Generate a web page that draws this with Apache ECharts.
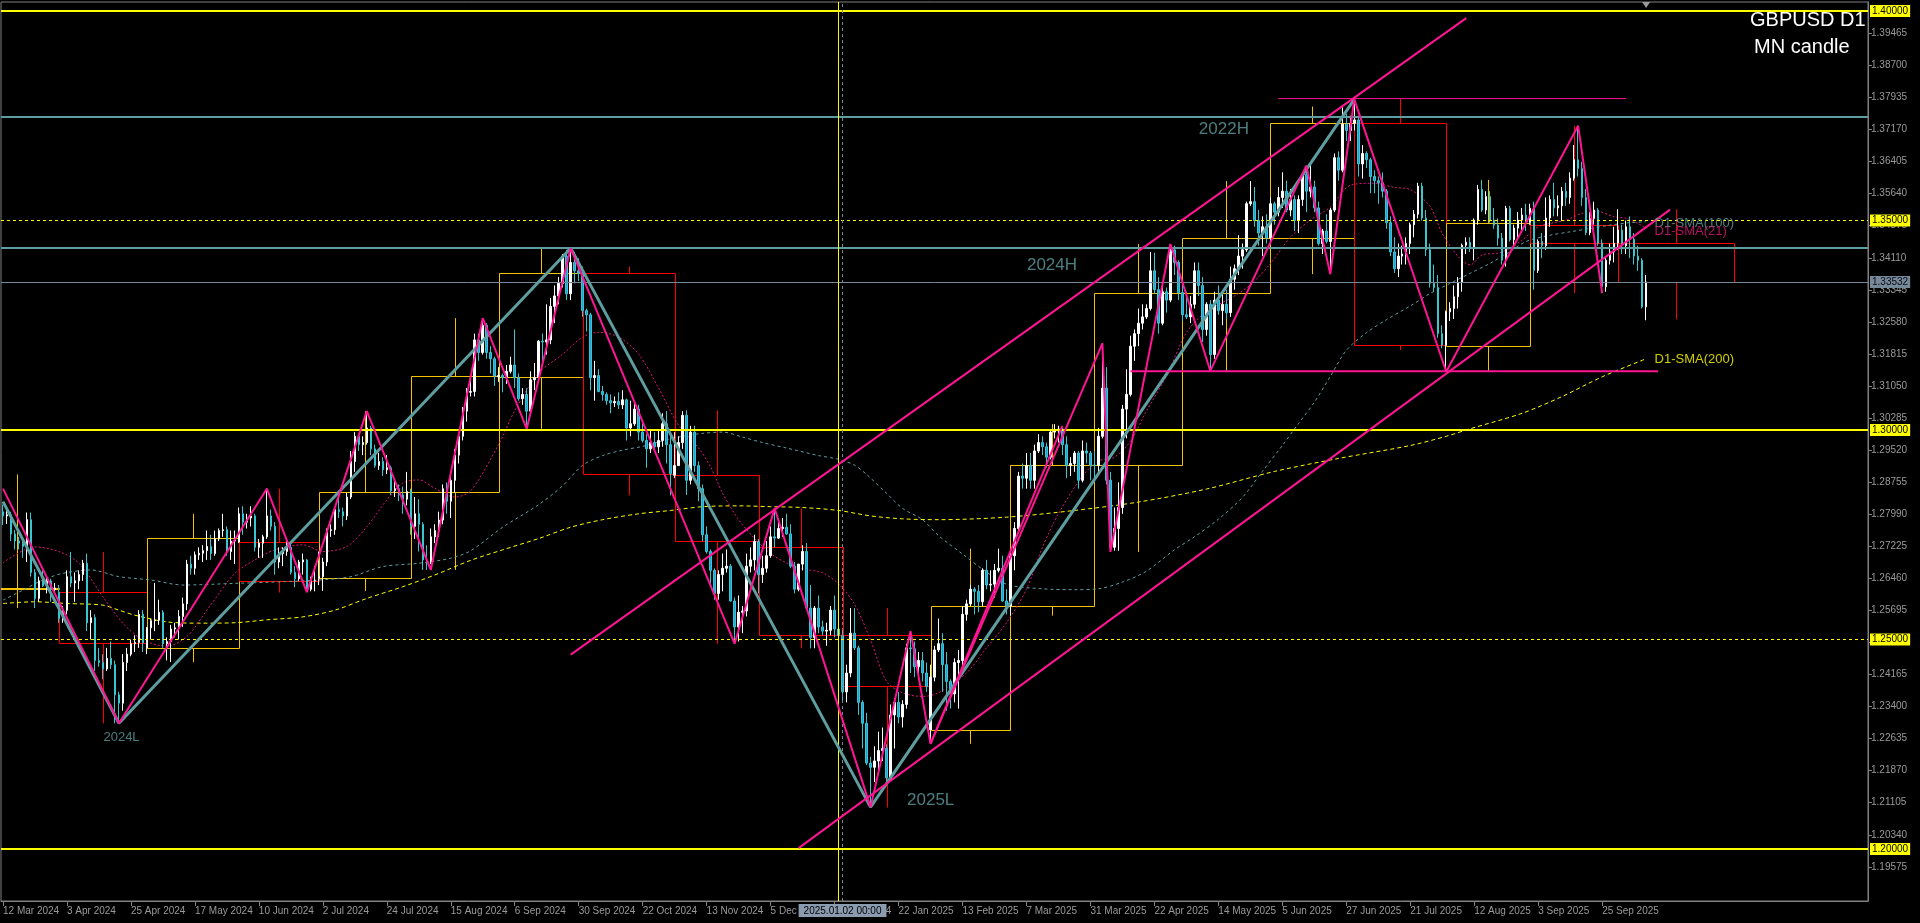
<!DOCTYPE html>
<html><head><meta charset="utf-8">
<script src="https://cdn.jsdelivr.net/npm/echarts@6/dist/echarts.min.js"></script>
<style>html,body{margin:0;padding:0;background:#000;overflow:hidden}#c{width:1920px;height:923px}</style>
</head><body><div id="c"></div><script>
// ---------- text ----------
const symbolTitle = 'GBPUSD D1';
const overlayTitle = 'MN candle';
const crossLabel = '2025.01.02 00:00';

// ---------- calendar ----------
const firstBarDate = '2024-03-12';
const lastBarDate = '2025-10-10';
const closedDays = ['2024-12-25', '2025-01-01'];
const totalSlots = 467;

// ---------- daily candles [open, high, low, close] ----------
const mar24 = [[1.2805,1.2822,1.2773,1.2795],[1.2795,1.2815,1.2776,1.2798],[1.2798,1.2805,1.2735,1.2752],[1.2752,1.2762,1.2715,1.2735],[1.2735,1.2745,1.2715,1.2730],[1.2730,1.2737,1.2695,1.2722],[1.2722,1.2803,1.2685,1.2786],[1.2786,1.2803,1.2650,1.2660],[1.2660,1.2668,1.2575,1.2598],[1.2598,1.2650,1.2590,1.2640],[1.2640,1.2665,1.2625,1.2628],[1.2628,1.2650,1.2610,1.2640],[1.2640,1.2645,1.2590,1.2620],[1.2620,1.2635,1.2612,1.2623]];
const apr24 = [[1.2613,1.2630,1.2540,1.2550],[1.2550,1.2580,1.2540,1.2570],[1.2570,1.2665,1.2560,1.2650],[1.2650,1.2709,1.2625,1.2635],[1.2635,1.2660,1.2590,1.2640],[1.2640,1.2665,1.2620,1.2655],[1.2655,1.2690,1.2640,1.2682],[1.2682,1.2705,1.2520,1.2540],[1.2540,1.2570,1.2500,1.2552],[1.2552,1.2560,1.2425,1.2450],[1.2450,1.2480,1.2435,1.2445],[1.2445,1.2465,1.2405,1.2430],[1.2430,1.2480,1.2425,1.2455],[1.2455,1.2495,1.2430,1.2440],[1.2440,1.2450,1.2300,1.2368],[1.2368,1.2375,1.2300,1.2348],[1.2348,1.2465,1.2330,1.2445],[1.2445,1.2480,1.2425,1.2465],[1.2465,1.2500,1.2460,1.2490],[1.2490,1.2510,1.2470,1.2493],[1.2493,1.2570,1.2480,1.2560],[1.2560,1.2570,1.2470,1.2492]];
const may24 = [[1.2480,1.2530,1.2465,1.2528],[1.2528,1.2550,1.2500,1.2545],[1.2545,1.2635,1.2520,1.2546],[1.2546,1.2595,1.2535,1.2565],[1.2565,1.2570,1.2480,1.2490],[1.2490,1.2505,1.2450,1.2495],[1.2495,1.2535,1.2446,1.2525],[1.2525,1.2540,1.2505,1.2528],[1.2528,1.2570,1.2500,1.2555],[1.2555,1.2600,1.2530,1.2585],[1.2585,1.2690,1.2570,1.2680],[1.2680,1.2700,1.2655,1.2670],[1.2670,1.2710,1.2655,1.2702],[1.2702,1.2720,1.2690,1.2706],[1.2706,1.2725,1.2685,1.2712],[1.2712,1.2760,1.2690,1.2722],[1.2722,1.2750,1.2690,1.2705],[1.2705,1.2760,1.2700,1.2740],[1.2740,1.2765,1.2735,1.2760],[1.2760,1.2800,1.2745,1.2762],[1.2762,1.2770,1.2700,1.2710],[1.2710,1.2760,1.2690,1.2735],[1.2735,1.2760,1.2680,1.2742]];
const jun24 = [[1.2733,1.2815,1.2730,1.2800],[1.2800,1.2818,1.2750,1.2780],[1.2780,1.2800,1.2765,1.2790],[1.2790,1.2818,1.2770,1.2795],[1.2795,1.2800,1.2710,1.2720],[1.2720,1.2740,1.2695,1.2730],[1.2730,1.2750,1.2695,1.2745],[1.2745,1.2860,1.2740,1.2795],[1.2795,1.2810,1.2760,1.2770],[1.2770,1.2780,1.2655,1.2685],[1.2685,1.2720,1.2670,1.2705],[1.2705,1.2720,1.2675,1.2710],[1.2710,1.2740,1.2700,1.2720],[1.2720,1.2735,1.2655,1.2660],[1.2660,1.2675,1.2625,1.2645],[1.2645,1.2690,1.2640,1.2685],[1.2685,1.2705,1.2655,1.2690],[1.2690,1.2692,1.2613,1.2620],[1.2620,1.2650,1.2615,1.2640],[1.2640,1.2675,1.2615,1.2640]];
const jul24 = [[1.2646,1.2710,1.2630,1.2650],[1.2650,1.2695,1.2616,1.2685],[1.2685,1.2765,1.2675,1.2760],[1.2760,1.2775,1.2745,1.2762],[1.2762,1.2815,1.2750,1.2810],[1.2810,1.2845,1.2790,1.2805],[1.2805,1.2815,1.2770,1.2795],[1.2795,1.2850,1.2785,1.2840],[1.2840,1.2950,1.2835,1.2925],[1.2925,1.2995,1.2900,1.2985],[1.2985,1.2990,1.2950,1.2965],[1.2965,1.2985,1.2940,1.2970],[1.2970,1.3045,1.2965,1.3005],[1.3005,1.3010,1.2940,1.2955],[1.2955,1.2965,1.2910,1.2915],[1.2915,1.2945,1.2905,1.2925],[1.2925,1.2935,1.2890,1.2905],[1.2905,1.2940,1.2895,1.2910],[1.2910,1.2915,1.2845,1.2855],[1.2855,1.2880,1.2840,1.2860],[1.2860,1.2870,1.2830,1.2845],[1.2845,1.2865,1.2800,1.2835],[1.2835,1.2900,1.2820,1.2853]];
const aug24 = [[1.2853,1.2860,1.2750,1.2770],[1.2770,1.2840,1.2740,1.2800],[1.2800,1.2835,1.2710,1.2775],[1.2775,1.2780,1.2666,1.2690],[1.2690,1.2725,1.2666,1.2685],[1.2685,1.2765,1.2680,1.2745],[1.2745,1.2775,1.2730,1.2760],[1.2760,1.2805,1.2745,1.2785],[1.2785,1.2870,1.2775,1.2860],[1.2860,1.2875,1.2800,1.2830],[1.2830,1.2890,1.2790,1.2880],[1.2880,1.2955,1.2850,1.2940],[1.2940,1.2990,1.2920,1.2985],[1.2985,1.3055,1.2975,1.3045],[1.3045,1.3100,1.3020,1.3090],[1.3090,1.3130,1.3080,1.3092],[1.3092,1.3230,1.3080,1.3215],[1.3215,1.3230,1.3165,1.3185],[1.3185,1.3267,1.3180,1.3250],[1.3250,1.3255,1.3170,1.3185],[1.3185,1.3200,1.3135,1.3170],[1.3170,1.3175,1.3105,1.3129]];
const sep24 = [[1.3127,1.3150,1.3115,1.3130],[1.3130,1.3135,1.3090,1.3125],[1.3125,1.3155,1.3110,1.3140],[1.3140,1.3175,1.3135,1.3155],[1.3155,1.3240,1.3100,1.3125],[1.3125,1.3135,1.3070,1.3075],[1.3075,1.3100,1.3060,1.3085],[1.3085,1.3100,1.3003,1.3045],[1.3045,1.3140,1.3040,1.3120],[1.3120,1.3160,1.3095,1.3125],[1.3125,1.3215,1.3120,1.3212],[1.3212,1.3230,1.3165,1.3210],[1.3210,1.3300,1.3180,1.3215],[1.3215,1.3315,1.3205,1.3295],[1.3295,1.3345,1.3255,1.3320],[1.3320,1.3365,1.3300,1.3350],[1.3350,1.3420,1.3340,1.3415],[1.3415,1.3430,1.3310,1.3325],[1.3325,1.3434,1.3310,1.3400],[1.3400,1.3425,1.3350,1.3380],[1.3380,1.3410,1.3355,1.3374]];
const oct24 = [[1.3374,1.3390,1.3270,1.3285],[1.3285,1.3290,1.3235,1.3275],[1.3275,1.3280,1.3095,1.3125],[1.3125,1.3165,1.3070,1.3130],[1.3130,1.3145,1.3090,1.3092],[1.3092,1.3105,1.3070,1.3085],[1.3085,1.3090,1.3060,1.3070],[1.3070,1.3085,1.3040,1.3065],[1.3065,1.3080,1.3055,1.3068],[1.3068,1.3090,1.3050,1.3060],[1.3060,1.3095,1.3050,1.3072],[1.3072,1.3075,1.2975,1.3005],[1.3005,1.3070,1.2985,1.3015],[1.3015,1.3070,1.3010,1.3050],[1.3050,1.3060,1.2975,1.2995],[1.2995,1.3015,1.2970,1.2975],[1.2975,1.2990,1.2910,1.2955],[1.2955,1.3000,1.2945,1.2970],[1.2970,1.2995,1.2950,1.2960],[1.2960,1.3000,1.2945,1.2975],[1.2975,1.3040,1.2960,1.3015],[1.3015,1.3045,1.2920,1.2965],[1.2965,1.2985,1.2844,1.2896]];
const nov24 = [[1.2892,1.2995,1.2885,1.2915],[1.2915,1.2985,1.2915,1.2970],[1.2970,1.3045,1.2955,1.3035],[1.3035,1.3047,1.2845,1.2880],[1.2880,1.3010,1.2870,1.2995],[1.2995,1.3010,1.2900,1.2915],[1.2915,1.2925,1.2830,1.2860],[1.2860,1.2870,1.2735,1.2750],[1.2750,1.2770,1.2705,1.2710],[1.2710,1.2715,1.2630,1.2665],[1.2665,1.2670,1.2595,1.2610],[1.2610,1.2665,1.2595,1.2655],[1.2655,1.2705,1.2615,1.2670],[1.2670,1.2715,1.2660,1.2675],[1.2675,1.2680,1.2590,1.2592],[1.2592,1.2600,1.2490,1.2530],[1.2530,1.2605,1.2495,1.2565],[1.2565,1.2580,1.2515,1.2568],[1.2568,1.2705,1.2555,1.2675],[1.2675,1.2720,1.2660,1.2690],[1.2690,1.2750,1.2665,1.2734]];
const dec24 = [[1.2734,1.2740,1.2610,1.2655],[1.2655,1.2700,1.2635,1.2670],[1.2670,1.2735,1.2660,1.2700],[1.2700,1.2770,1.2695,1.2745],[1.2745,1.2813,1.2720,1.2742],[1.2742,1.2790,1.2740,1.2765],[1.2765,1.2790,1.2745,1.2768],[1.2768,1.2800,1.2750,1.2752],[1.2752,1.2775,1.2670,1.2675],[1.2675,1.2685,1.2610,1.2620],[1.2620,1.2675,1.2615,1.2680],[1.2680,1.2725,1.2665,1.2710],[1.2710,1.2730,1.2570,1.2575],[1.2575,1.2630,1.2479,1.2505],[1.2505,1.2580,1.2479,1.2575],[1.2575,1.2605,1.2515,1.2530],[1.2530,1.2545,1.2510,1.2520],[1.2520,1.2540,1.2485,1.2522],[1.2522,1.2580,1.2510,1.2570],[1.2570,1.2605,1.2505,1.2525],[1.2525,1.2575,1.2505,1.2510]];
const jan25 = [[1.2510,1.2525,1.2350,1.2375],[1.2375,1.2440,1.2350,1.2420],[1.2420,1.2575,1.2410,1.2515],[1.2515,1.2575,1.2475,1.2480],[1.2480,1.2485,1.2320,1.2350],[1.2350,1.2355,1.2240,1.2300],[1.2300,1.2325,1.2200,1.2205],[1.2205,1.2220,1.2099,1.2195],[1.2195,1.2245,1.2160,1.2210],[1.2210,1.2280,1.2180,1.2235],[1.2235,1.2290,1.2210,1.2240],[1.2240,1.2250,1.2160,1.2170],[1.2170,1.2345,1.2165,1.2320],[1.2320,1.2360,1.2240,1.2350],[1.2350,1.2375,1.2300,1.2315],[1.2315,1.2355,1.2290,1.2345],[1.2345,1.2490,1.2335,1.2480],[1.2480,1.2520,1.2420,1.2478],[1.2478,1.2495,1.2410,1.2435],[1.2435,1.2470,1.2410,1.2450],[1.2450,1.2470,1.2400,1.2420],[1.2420,1.2445,1.2375,1.2388]];
const feb25 = [[1.2285,1.2440,1.2251,1.2410],[1.2410,1.2485,1.2400,1.2475],[1.2475,1.2550,1.2470,1.2490],[1.2490,1.2515,1.2375,1.2440],[1.2440,1.2470,1.2330,1.2400],[1.2400,1.2405,1.2335,1.2370],[1.2370,1.2455,1.2350,1.2445],[1.2445,1.2475,1.2335,1.2450],[1.2450,1.2580,1.2430,1.2560],[1.2560,1.2595,1.2545,1.2585],[1.2585,1.2630,1.2580,1.2620],[1.2620,1.2625,1.2560,1.2615],[1.2615,1.2630,1.2565,1.2590],[1.2590,1.2670,1.2580,1.2665],[1.2665,1.2690,1.2620,1.2630],[1.2630,1.2665,1.2615,1.2632],[1.2632,1.2680,1.2600,1.2665],[1.2665,1.2717,1.2660,1.2670],[1.2670,1.2700,1.2590,1.2592],[1.2592,1.2620,1.2560,1.2580]];
const mar25 = [[1.2580,1.2705,1.2557,1.2700],[1.2700,1.2780,1.2665,1.2765],[1.2765,1.2900,1.2760,1.2890],[1.2890,1.2920,1.2860,1.2885],[1.2885,1.2945,1.2860,1.2915],[1.2915,1.2945,1.2860,1.2880],[1.2880,1.2965,1.2860,1.2950],[1.2950,1.2990,1.2945,1.2970],[1.2970,1.2985,1.2940,1.2960],[1.2960,1.2970,1.2910,1.2935],[1.2935,1.3000,1.2930,1.2995],[1.2995,1.3014,1.2980,1.2998],[1.2998,1.3010,1.2970,1.3002],[1.3002,1.3005,1.2940,1.2965],[1.2965,1.2985,1.2885,1.2915],[1.2915,1.2935,1.2890,1.2920],[1.2920,1.2950,1.2900,1.2945],[1.2945,1.2950,1.2860,1.2880],[1.2880,1.2975,1.2875,1.2950],[1.2950,1.2970,1.2920,1.2945],[1.2945,1.2950,1.2880,1.2916]];
const apr25 = [[1.2916,1.2950,1.2875,1.2915],[1.2915,1.3005,1.2900,1.2985],[1.2985,1.3207,1.2980,1.3100],[1.3100,1.3150,1.2870,1.2880],[1.2880,1.2900,1.2709,1.2720],[1.2720,1.2815,1.2712,1.2765],[1.2765,1.2875,1.2712,1.2815],[1.2815,1.3060,1.2800,1.3050],[1.3050,1.3145,1.2980,1.3085],[1.3085,1.3225,1.3080,1.3200],[1.3200,1.3240,1.3165,1.3230],[1.3230,1.3290,1.3200,1.3255],[1.3255,1.3300,1.3240,1.3270],[1.3270,1.3300,1.3265,1.3290],[1.3290,1.3425,1.3285,1.3380],[1.3380,1.3423,1.3325,1.3335],[1.3335,1.3365,1.3230,1.3255],[1.3255,1.3345,1.3250,1.3330],[1.3330,1.3340,1.3280,1.3310],[1.3310,1.3444,1.3305,1.3430],[1.3430,1.3440,1.3370,1.3400],[1.3400,1.3405,1.3310,1.3328]];
const may25 = [[1.3328,1.3345,1.3260,1.3275],[1.3275,1.3330,1.3265,1.3270],[1.3270,1.3320,1.3255,1.3300],[1.3300,1.3400,1.3290,1.3380],[1.3380,1.3400,1.3320,1.3345],[1.3345,1.3365,1.3210,1.3240],[1.3240,1.3305,1.3225,1.3300],[1.3300,1.3310,1.3141,1.3180],[1.3180,1.3330,1.3170,1.3310],[1.3310,1.3345,1.3275,1.3285],[1.3285,1.3330,1.3250,1.3300],[1.3300,1.3335,1.3265,1.3280],[1.3280,1.3390,1.3270,1.3360],[1.3360,1.3395,1.3335,1.3385],[1.3385,1.3465,1.3370,1.3415],[1.3415,1.3445,1.3385,1.3430],[1.3430,1.3545,1.3425,1.3540],[1.3540,1.3594,1.3535,1.3545],[1.3545,1.3580,1.3485,1.3500],[1.3500,1.3525,1.3440,1.3470],[1.3470,1.3510,1.3415,1.3485],[1.3485,1.3515,1.3445,1.3458]];
const jun25 = [[1.3458,1.3555,1.3450,1.3540],[1.3540,1.3545,1.3490,1.3520],[1.3520,1.3580,1.3510,1.3555],[1.3555,1.3615,1.3530,1.3570],[1.3570,1.3595,1.3520,1.3525],[1.3525,1.3575,1.3510,1.3550],[1.3550,1.3560,1.3475,1.3500],[1.3500,1.3560,1.3470,1.3550],[1.3550,1.3615,1.3535,1.3610],[1.3610,1.3631,1.3520,1.3570],[1.3570,1.3633,1.3555,1.3580],[1.3580,1.3595,1.3520,1.3530],[1.3530,1.3545,1.3440,1.3445],[1.3445,1.3480,1.3420,1.3475],[1.3475,1.3515,1.3445,1.3450],[1.3450,1.3530,1.3372,1.3525],[1.3525,1.3660,1.3520,1.3650],[1.3650,1.3665,1.3595,1.3620],[1.3620,1.3770,1.3615,1.3730],[1.3730,1.3755,1.3690,1.3715],[1.3715,1.3750,1.3690,1.3732]];
const jul25 = [[1.3732,1.3789,1.3715,1.3740],[1.3740,1.3750,1.3605,1.3635],[1.3635,1.3680,1.3600,1.3660],[1.3660,1.3665,1.3625,1.3645],[1.3645,1.3650,1.3565,1.3605],[1.3605,1.3620,1.3565,1.3595],[1.3595,1.3605,1.3540,1.3590],[1.3590,1.3615,1.3555,1.3570],[1.3570,1.3575,1.3480,1.3495],[1.3495,1.3510,1.3415,1.3425],[1.3425,1.3460,1.3375,1.3385],[1.3385,1.3445,1.3365,1.3415],[1.3415,1.3440,1.3395,1.3420],[1.3420,1.3460,1.3395,1.3445],[1.3445,1.3495,1.3420,1.3490],[1.3490,1.3525,1.3460,1.3515],[1.3515,1.3590,1.3505,1.3582],[1.3582,1.3590,1.3500,1.3506],[1.3506,1.3525,1.3415,1.3430],[1.3430,1.3445,1.3340,1.3350],[1.3350,1.3395,1.3330,1.3340],[1.3340,1.3370,1.3220,1.3230],[1.3230,1.3250,1.3195,1.3203]];
const aug25 = [[1.3203,1.3285,1.3139,1.3282],[1.3282,1.3305,1.3260,1.3290],[1.3290,1.3345,1.3265,1.3318],[1.3318,1.3365,1.3290,1.3352],[1.3352,1.3445,1.3330,1.3441],[1.3441,1.3460,1.3420,1.3448],[1.3448,1.3460,1.3425,1.3435],[1.3435,1.3505,1.3405,1.3501],[1.3501,1.3585,1.3490,1.3574],[1.3574,1.3597,1.3520,1.3525],[1.3525,1.3570,1.3515,1.3557],[1.3557,1.3570,1.3495,1.3501],[1.3501,1.3530,1.3480,1.3489],[1.3489,1.3505,1.3440,1.3458],[1.3458,1.3470,1.3395,1.3405],[1.3405,1.3535,1.3390,1.3529],[1.3529,1.3535,1.3450,1.3454],[1.3454,1.3490,1.3440,1.3482],[1.3482,1.3520,1.3460,1.3501],[1.3501,1.3530,1.3475,1.3513],[1.3513,1.3540,1.3475,1.3495]];
const sep25 = [[1.3495,1.3540,1.3490,1.3529],[1.3529,1.3545,1.3335,1.3381],[1.3381,1.3455,1.3375,1.3450],[1.3450,1.3470,1.3410,1.3440],[1.3440,1.3555,1.3430,1.3506],[1.3506,1.3560,1.3485,1.3550],[1.3550,1.3590,1.3510,1.3530],[1.3530,1.3560,1.3510,1.3535],[1.3535,1.3580,1.3500,1.3570],[1.3570,1.3590,1.3535,1.3555],[1.3555,1.3615,1.3540,1.3601],[1.3601,1.3680,1.3595,1.3645],[1.3645,1.3726,1.3605,1.3624],[1.3624,1.3640,1.3535,1.3555],[1.3555,1.3575,1.3465,1.3471],[1.3471,1.3520,1.3465,1.3505],[1.3505,1.3545,1.3490,1.3525],[1.3525,1.3530,1.3440,1.3446],[1.3446,1.3455,1.3327,1.3342],[1.3342,1.3415,1.3330,1.3405],[1.3405,1.3445,1.3395,1.3425],[1.3425,1.3485,1.3400,1.3446]];
const oct25 = [[1.3446,1.3527,1.3430,1.3477],[1.3477,1.3490,1.3420,1.3440],[1.3440,1.3500,1.3420,1.3485],[1.3485,1.3510,1.3410,1.3455],[1.3455,1.3470,1.3395,1.3415],[1.3415,1.3440,1.3380,1.3405],[1.3405,1.3410,1.3290,1.3294],[1.3294,1.3370,1.3262,1.33532]];

// ---------- monthly candle overlay ----------
const monthKeys  = ['2024-03','2024-04','2024-05','2024-06','2024-07','2024-08','2024-09','2024-10','2024-11','2024-12','2025-01','2025-02','2025-03','2025-04','2025-05','2025-06','2025-07','2025-08','2025-09','2025-10','2025-11'];
const monthOpen  = [1.2620,1.2613,1.2480,1.2733,1.2646,1.2853,1.3127,1.3374,1.2892,1.2720,1.2510,1.2285,1.2580,1.2916,1.3328,1.3458,1.3732,1.3200,1.3489,1.3446];
const monthHigh  = [1.2894,1.2709,1.2800,1.2860,1.3045,1.3267,1.3434,1.3390,1.3047,1.2813,1.2575,1.2717,1.3014,1.3444,1.3594,1.3772,1.3791,1.3597,1.3726,1.3527];
const monthLow   = [1.2575,1.2300,1.2446,1.2612,1.2616,1.2666,1.3003,1.2844,1.2490,1.2479,1.2099,1.2251,1.2557,1.2709,1.3141,1.3372,1.3191,1.3139,1.3327,1.3264];
const monthClose = [1.2623,1.2492,1.2742,1.2640,1.2853,1.3129,1.3374,1.2896,1.2734,1.2510,1.2388,1.2580,1.2916,1.3328,1.3458,1.3732,1.3203,1.3495,1.3446,1.33532];

// ---------- price axis ----------
const priceTicks = [1.19575,1.20340,1.21105,1.21870,1.22635,1.23400,1.24165,1.24930,1.25695,1.26460,1.27225,1.27990,1.28755,1.29520,1.30285,1.31050,1.31815,1.32580,1.33345,1.34110,1.34875,1.35640,1.36405,1.37170,1.37935,1.38700,1.39465];
const priceMin = 1.18759, priceMax = 1.40215;
const roundLevels = [1.40, 1.30, 1.20];
const halfLevels = [1.35, 1.25];
const level2022H = 1.3748, level2024H = 1.3434;
const lastPrice = 1.33532;

// ---------- drawn objects: [bar number, price] ----------
const zigzagPink = [[0,1.2860],[29,1.2300],[66,1.2860],[76,1.2613],[91,1.3045],[107,1.2666],[120,1.3267],[131,1.3003],[142,1.3434],[183,1.2490],[193,1.2813],[217,1.2100],[227,1.2520],[232,1.2251],[275,1.3207],[277,1.2709],[292,1.3444],[302,1.3141],[326,1.3631],[332,1.3372],[338,1.3789],[361,1.3139],[394,1.3726],[400,1.3327]];
const pinkLeg = [[232,1.2251],[265,1.3010]];
const zigzagTeal = [[0,1.2829],[29,1.2300],[142,1.3434],[217,1.2100],[338,1.3789]];
const channelUpper = [[142,1.2464],[366,1.3983]];
const channelLower = [[199,1.2002],[417,1.3526]];
const pinkTop = [[319,1.3791],[406,1.3791]];
const pinkBottom = [[282,1.3140],[414,1.3140]];
const vLineYellowBar = 209, vLineSepBar = 210;

// ---------- moving averages: [bar number, value] ----------
const sma21 = [[0,1.2683],[8,1.2721],[14,1.2710],[19,1.2682],[25,1.2602],[30,1.2539],[35,1.2499],[41,1.2484],[46,1.2507],[51,1.2570],[58,1.2658],[63,1.2690],[68,1.2714],[75,1.2726],[80,1.2710],[86,1.2722],[91,1.2769],[96,1.2833],[100,1.2873],[104,1.2881],[108,1.2861],[113,1.2840],[117,1.2855],[124,1.2966],[128,1.3046],[134,1.3136],[140,1.3181],[145,1.3222],[149,1.3233],[154,1.3222],[159,1.3181],[164,1.3100],[169,1.3011],[174,1.2957],[177,1.2912],[180,1.2849],[184,1.2786],[188,1.2741],[192,1.2705],[196,1.2683],[200,1.2669],[205,1.2659],[209,1.2633],[213,1.2584],[217,1.2499],[221,1.2400],[225,1.2373],[230,1.2364],[234,1.2373],[241,1.2420],[246,1.2480],[251,1.2540],[256,1.2620],[260,1.2720],[264,1.2800],[270,1.2890],[274,1.2926],[278,1.2935],[282,1.2973],[286,1.3045],[291,1.3128],[296,1.3232],[301,1.3283],[307,1.3314],[312,1.3346],[317,1.3397],[322,1.3460],[327,1.3501],[332,1.3532],[337,1.3584],[343,1.3589],[348,1.3579],[352,1.3574],[357,1.3533],[360,1.3469],[364,1.3414],[367,1.3394],[370,1.3418],[374,1.3422],[377,1.3434],[380,1.3453],[384,1.3485],[387,1.3493],[391,1.3501],[395,1.3517],[399,1.3521],[403,1.3509],[406,1.3505],[409,1.3493],[411,1.3481]];
const sma100 = [[0,1.2594],[5,1.2618],[10,1.2642],[15,1.2658],[22,1.2666],[29,1.2650],[37,1.2642],[45,1.2630],[58,1.2634],[70,1.2638],[79,1.2642],[87,1.2650],[95,1.2674],[104,1.2682],[112,1.2694],[117,1.2712],[125,1.2768],[134,1.2822],[140,1.2867],[145,1.2916],[150,1.2939],[155,1.2952],[160,1.2961],[165,1.2974],[170,1.2985],[175,1.2992],[180,1.2995],[185,1.2983],[190,1.2970],[196,1.2957],[204,1.2939],[209,1.2930],[213,1.2916],[216,1.2894],[221,1.2849],[225,1.2813],[230,1.2786],[234,1.2748],[240,1.2704],[245,1.2668],[251,1.2632],[260,1.2621],[268,1.2619],[274,1.2621],[280,1.2637],[286,1.2663],[293,1.2714],[298,1.2745],[304,1.2787],[310,1.2839],[315,1.2901],[320,1.2963],[324,1.3015],[328,1.3066],[332,1.3128],[336,1.3190],[341,1.3232],[346,1.3263],[352,1.3296],[357,1.3326],[362,1.3350],[367,1.3374],[372,1.3398],[377,1.3426],[381,1.3450],[387,1.3465],[392,1.3473],[397,1.3481],[402,1.3489],[407,1.3495],[411,1.3497]];
const sma200 = [[0,1.2586],[8,1.2590],[16,1.2586],[25,1.2582],[29,1.2570],[33,1.2558],[41,1.2542],[50,1.2539],[58,1.2540],[66,1.2547],[75,1.2554],[83,1.2570],[91,1.2598],[100,1.2626],[108,1.2654],[117,1.2689],[125,1.2714],[134,1.2741],[142,1.2768],[150,1.2786],[159,1.2800],[167,1.2808],[175,1.2817],[184,1.2819],[192,1.2817],[200,1.2815],[209,1.2808],[217,1.2795],[225,1.2788],[234,1.2786],[251,1.2792],[268,1.2808],[284,1.2828],[301,1.2859],[318,1.2901],[334,1.2932],[352,1.2963],[361,1.2985],[367,1.3003],[380,1.3040],[390,1.3080],[400,1.3127],[411,1.3170]];

// ---------- chart annotations: [bar number, price, text] ----------
const swingLabels = [[299,1.3718,'2022H',17],[256,1.3392,'2024H',17],[25,1.2267,'2024L',13],[226,1.2117,'2025L',17]];
const smaLabels = [[413,1.3494,'D1-SMA(100)','#5f9ea0'],[413,1.3473,'D1-SMA(21)','#e0157a'],[413,1.3169,'D1-SMA(200)','#ffff00']];

// ================= build =================
const MONTHS = ['Jan','Feb','Mar','Apr','May','Jun','Jul','Aug','Sep','Oct','Nov','Dec'];
const DAY = 86400000;
const ymd = d => d.toISOString().slice(0, 10);
const catDates = [];
let cur = new Date(firstBarDate + 'T00:00:00Z');
const endBar = new Date(lastBarDate + 'T00:00:00Z');
while (cur <= endBar) {
  const w = cur.getUTCDay(), s = ymd(cur);
  if (w !== 0 && w !== 6 && closedDays.indexOf(s) < 0) catDates.push(s);
  cur = new Date(cur.getTime() + DAY);
}
const lastBar = catDates.length - 1;
while (catDates.length < totalSlots) { catDates.push(ymd(cur)); cur = new Date(cur.getTime() + DAY); }

function barOf(dateStr) {
  if (dateStr < catDates[0]) {
    let n = 0, d = new Date(dateStr + 'T00:00:00Z');
    while (ymd(d) < catDates[0]) { const w = d.getUTCDay(); if (w !== 0 && w !== 6) n++; d = new Date(d.getTime() + DAY); }
    return -n;
  }
  for (let i = 0; i < catDates.length; i++) if (catDates[i] >= dateStr) return i;
  return catDates.length;
}
function fmtDate(s) {
  const [y, m, d] = s.split('-');
  return (+d) + ' ' + MONTHS[+m - 1] + ' ' + y;
}
const showLabel = i => i % labelEvery === 0 && i <= lastBar;

const daily = [].concat(mar24, apr24, may24, jun24, jul24, aug24, sep24, oct24, nov24, dec24, jan25, feb25, mar25, apr25, may25, jun25, jul25, aug25, sep25, oct25);
const candleData = daily.map(r => [r[0], r[3], r[2], r[1]]);

const monthRows = monthOpen.map((o, i) => [barOf(monthKeys[i] + '-01'), barOf(monthKeys[i + 1] + '-01'), o, monthHigh[i], monthLow[i], monthClose[i]]);

const AX = '"Liberation Sans",Arial,sans-serif';
const TX = '"Liberation Sans",Arial,sans-serif';
const AXC = '#9a9a9a';
const BOX_UP = '#f5c400', BOX_DN = '#ff0000';
const PINK = '#ff1493', TEAL = '#5f9ea0';
var labelEvery = 16;

const yellowTag = t => ({ show: true, position: 'end', distance: 2, formatter: t, color: '#000', backgroundColor: '#ffff00', padding: [1, 2, 0, 2], fontSize: 10, lineHeight: 11, fontFamily: AX });

const hLines = [];
roundLevels.forEach(v => hLines.push({ yAxis: v, lineStyle: { color: '#ffff00', width: 2, type: 'solid' }, label: yellowTag(v.toFixed(5)) }));
halfLevels.forEach(v => hLines.push({ yAxis: v, lineStyle: { color: '#ffff00', width: 1, type: [3, 3] }, label: yellowTag(v.toFixed(5)) }));
hLines.push({ yAxis: level2022H, lineStyle: { color: TEAL, width: 2, type: 'solid' }, label: { show: false } });
hLines.push({ yAxis: level2024H, lineStyle: { color: TEAL, width: 2, type: 'solid' }, label: { show: false } });
hLines.push({ yAxis: lastPrice, lineStyle: { color: '#778899', width: 1, type: 'solid' }, label: { show: true, position: 'end', distance: 2, formatter: lastPrice.toFixed(5), color: '#0a0a14', backgroundColor: '#778899', padding: [1, 2, 0, 2], fontSize: 10, lineHeight: 11, fontFamily: AX } });
hLines.push({ xAxis: catDates[vLineYellowBar], lineStyle: { color: '#ffff00', width: 1, type: 'solid' }, label: { show: false } });
hLines.push({ xAxis: catDates[vLineSepBar], lineStyle: { color: '#778899', width: 1, type: [3, 3] }, label: { show: true, position: 'start', distance: 3, formatter: crossLabel, color: '#000', backgroundColor: '#8b9bb0', padding: [1, 5, 0, 5], fontSize: 10, lineHeight: 12, fontFamily: AX } });

const seg = (data, color, width, z) => ({ type: 'line', data, symbol: 'none', silent: true, clip: true, z, lineStyle: { color, width, type: 'solid' }, animation: false });
const ma = (data, color, dash) => ({ type: 'line', data, symbol: 'none', silent: true, clip: true, z: 3, smooth: 0.3, lineStyle: { color, width: 1, type: dash }, animation: false });

const chart = echarts.init(document.getElementById('c'), null, { renderer: 'canvas' });
chart.setOption({
  animation: false,
  backgroundColor: '#000',
  title: [
    { text: symbolTitle, left: 1745, top: 5, textStyle: { color: '#fff', fontSize: 20, fontWeight: 'normal', fontFamily: TX } },
    { text: overlayTitle, left: 1749, top: 32, textStyle: { color: '#fff', fontSize: 20, fontWeight: 'normal', fontFamily: TX } }
  ],
  grid: { left: 0, right: 52, top: 2, bottom: 22, show: true, borderColor: '#808080', borderWidth: 1, containLabel: false },
  xAxis: {
    type: 'category', data: catDates, boundaryGap: true,
    axisLine: { show: true, lineStyle: { color: '#808080' } },
    axisTick: { show: true, alignWithLabel: true, length: 5, interval: i => showLabel(i), lineStyle: { color: '#808080' } },
    axisLabel: { show: true, interval: i => showLabel(i), formatter: (v, i) => (i <= lastBar ? fmtDate(v) : ''), color: AXC, fontSize: 10, fontFamily: AX, align: 'left', margin: 5 },
    splitLine: { show: false }
  },
  yAxis: {
    type: 'value', position: 'right', min: priceMin, max: priceMax, scale: true,
    axisLine: { show: true, lineStyle: { color: '#808080' } },
    axisTick: { show: true, length: 4, customValues: priceTicks, lineStyle: { color: '#808080' } },
    axisLabel: { show: true, customValues: priceTicks, formatter: v => v.toFixed(5), color: AXC, fontSize: 10, fontFamily: AX, margin: 3 },
    splitLine: { show: false }
  },
  series: [
    {
      type: 'custom', name: 'MN', data: monthRows, clip: true, z: 1, silent: true,
      encode: { x: 0, y: [2, 3, 4, 5] },
      renderItem: (params, api) => {
        const i0 = api.value(0), i1 = api.value(1), o = api.value(2), h = api.value(3), l = api.value(4), c = api.value(5);
        const pa = api.coord([i0, o]), pb = api.coord([i1, c]);
        const ph = api.coord([i0, h]), pl = api.coord([i0, l]);
        const x0 = Math.round(pa[0]) + 0.5, x1 = Math.round(pb[0]) + 0.5;
        const yt = Math.round(Math.min(pa[1], pb[1])) + 0.5, yb = Math.round(Math.max(pa[1], pb[1])) + 0.5;
        const xm = Math.round((pa[0] + pb[0]) / 2) + 0.5;
        const col = c >= o ? BOX_UP : BOX_DN;
        return { type: 'group', children: [
          { type: 'rect', shape: { x: x0, y: yt, width: x1 - x0, height: Math.max(yb - yt, 0) }, style: { fill: 'transparent', stroke: col, lineWidth: 1 } },
          { type: 'line', shape: { x1: xm, y1: ph[1], x2: xm, y2: yt }, style: { stroke: col, lineWidth: 1 } },
          { type: 'line', shape: { x1: xm, y1: yb, x2: xm, y2: pl[1] }, style: { stroke: col, lineWidth: 1 } }
        ] };
      }
    },
    ma(sma200, '#ffff00', [4, 3]),
    ma(sma100, TEAL, [3, 3]),
    ma(sma21, '#e0157a', [2, 2]),
    {
      type: 'candlestick', name: 'GBPUSD', data: candleData, barWidth: 2, z: 4, silent: true, clip: true,
      itemStyle: { color: '#ffffff', color0: '#1f9fe0', borderColor: '#ffffff', borderColor0: '#38c6d0', borderWidth: 1 },
      markLine: { symbol: ['none', 'none'], silent: true, animation: false, precision: 5, data: hLines },
      markPoint: { silent: true, animation: false, data: [{ coord: [lastBar, priceMax - 0.0007], symbol: 'triangle', symbolRotate: 180, symbolSize: [8, 6], itemStyle: { color: '#9a9a9a' }, label: { show: false } }] }
    },
    seg(zigzagTeal, TEAL, 3, 5),
    seg(zigzagPink, PINK, 2, 6),
    seg(pinkLeg, PINK, 2, 6),
    seg(channelUpper, PINK, 2, 6),
    seg(channelLower, PINK, 2, 6),
    seg(pinkTop, PINK, 1, 6),
    seg(pinkBottom, PINK, 2, 6),
    {
      type: 'scatter', silent: true, z: 7, symbolSize: 1, itemStyle: { color: 'transparent' },
      data: swingLabels.map(r => ({ value: [r[0], r[1]], label: { show: true, position: 'right', distance: 0, formatter: r[2], color: TEAL, fontSize: r[3], fontFamily: TX } }))
    },
    {
      type: 'scatter', silent: true, z: 7, symbolSize: 1, itemStyle: { color: 'transparent' },
      data: smaLabels.map(r => ({ value: [r[0], r[1]], label: { show: true, position: 'right', distance: 0, formatter: r[2], color: r[3], fontSize: 13, fontFamily: TX } }))
    }
  ]
});
</script></body></html>
